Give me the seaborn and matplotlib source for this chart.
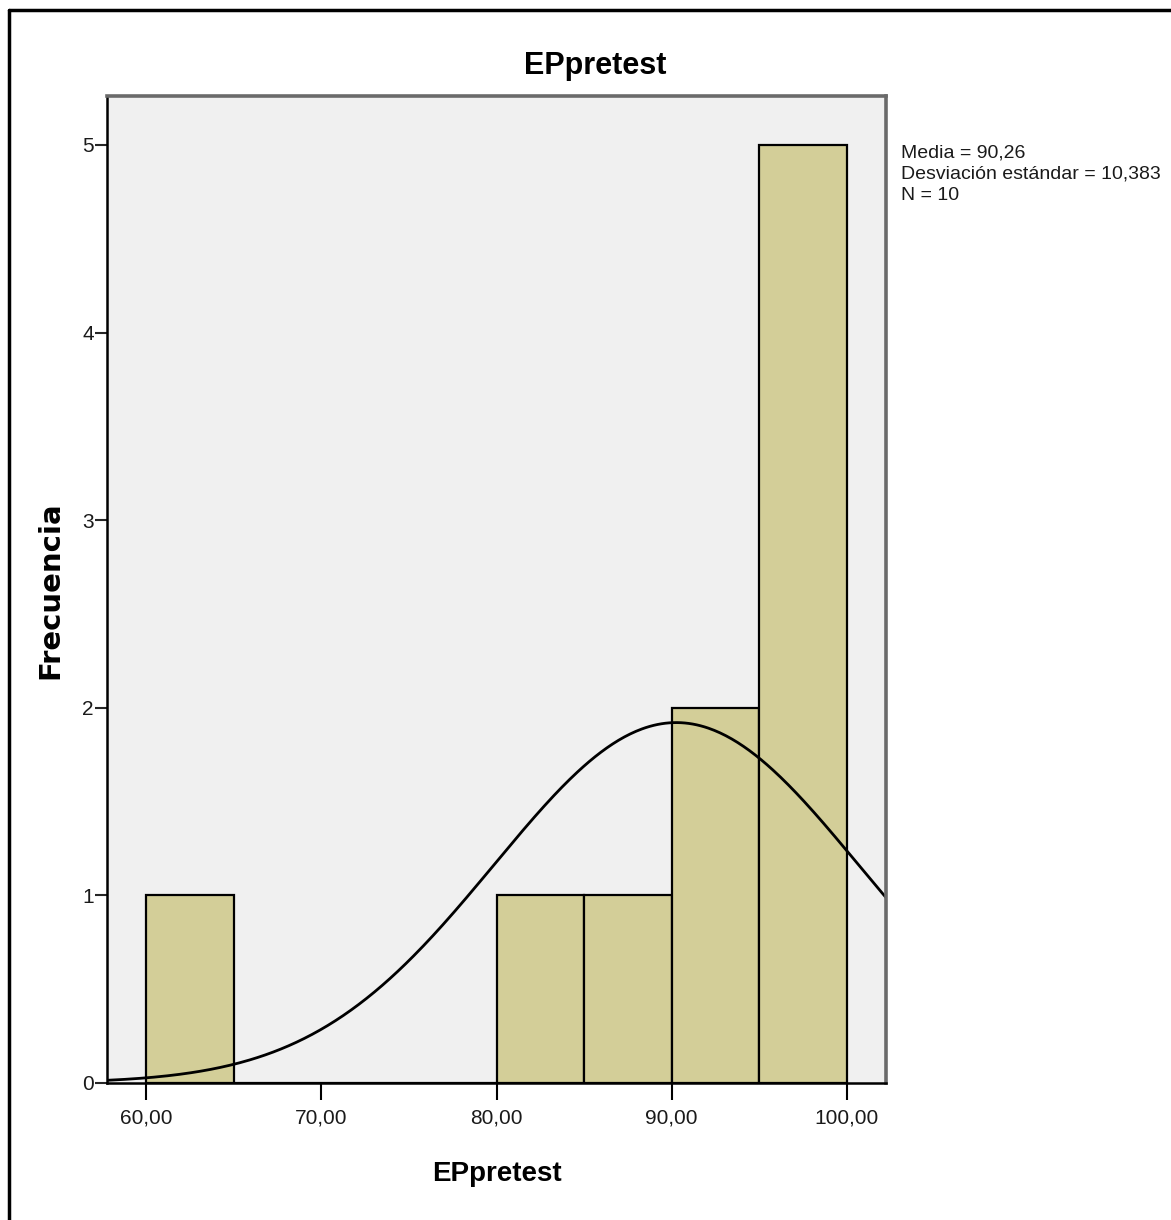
import numpy as np
import pandas as pd
import matplotlib.pyplot as plt
import seaborn as sns
from matplotlib.lines import Line2D

sns.set_style("white")
plt.rcParams["font.family"] = ["Liberation Sans Narrow", "Liberation Sans", "DejaVu Sans"]

# histogram (bin width 5)
bin_edges = [60, 65, 70, 75, 80, 85, 90, 95, 100]
counts = [1, 0, 0, 0, 1, 1, 2, 5]
x_ticks = [60, 70, 80, 90, 100]
x_tick_labels = ["60,00", "70,00", "80,00", "90,00", "100,00"]
y_ticks = [0, 1, 2, 3, 4, 5]
mean, sd, n = 90.26, 10.383, 10

centers = [(a + b) / 2 for a, b in zip(bin_edges[:-1], bin_edges[1:])]
df = pd.DataFrame({"EPpretest": centers, "count": counts})

W, H = 1171, 1220
fig = plt.figure(figsize=(W / 100, H / 100), dpi=100)
ax = fig.add_axes([107 / W, 1 - 1083 / H, (886 - 107) / W, (1083 - 96) / H])
ax.set_facecolor("#F0F0F0")

sns.histplot(data=df, x="EPpretest", weights="count", bins=bin_edges,
             color="#D3CE98", edgecolor="black", linewidth=1.6, alpha=1, ax=ax)

xlo, xhi = 57.77, 102.23
xs = np.linspace(xlo, xhi, 400)
bw = bin_edges[1] - bin_edges[0]
ys = n * bw * np.exp(-0.5 * ((xs - mean) / sd) ** 2) / (sd * np.sqrt(2 * np.pi))
sns.lineplot(x=xs, y=ys, color="black", linewidth=2, ax=ax)

ax.set_xlim(xlo, xhi)
ax.set_ylim(0, 5.261)
ax.set_xticks(x_ticks)
ax.set_xticklabels(x_tick_labels)
ax.set_yticks(y_ticks)
ax.tick_params(axis="x", direction="out", length=12, width=1.5, pad=6,
               labelsize=15, colors="black", labelcolor="#1a1a1a", bottom=True)
ax.tick_params(axis="y", direction="out", length=8.5, width=1.5, pad=1,
               labelsize=15, labelcolor="#1a1a1a", left=True)
ax.set_xlabel("")
ax.set_ylabel("")
for s in ["left", "bottom"]:
    ax.spines[s].set_color("black")
    ax.spines[s].set_linewidth(1.8)
for s in ["top", "right"]:
    ax.spines[s].set_color("#6a6a6a")
    ax.spines[s].set_linewidth(2.6)

fig.text(595 / W, 1 - 66 / H, "EPpretest", ha="center", va="center",
         fontsize=22, fontweight="bold", color="black")
fig.text(497 / W, 1 - 1174 / H, "EPpretest", ha="center", va="center",
         fontsize=20, fontweight="bold", color="black")
fig.text(50 / W, 1 - 590 / H, "Frecuencia", ha="center", va="center",
         rotation=90, fontsize=21, fontweight="bold", color="black",
         family=["DejaVu Sans"])
fig.text(901 / W, 1 - 145 / H,
         "Media = 90,26\nDesviación estándar = 10,383\nN = 10",
         ha="left", va="top", fontsize=14, color="#1a1a1a", linespacing=1.3)

# outer frame (left and top edges)
fig.add_artist(Line2D([8.5 / W, 8.5 / W], [0, 1 - 10 / H], color="black", linewidth=2.5))
fig.add_artist(Line2D([8.5 / W, 1], [1 - 10 / H, 1 - 10 / H], color="black", linewidth=2.5))

fig.savefig("out.png", dpi=100)
